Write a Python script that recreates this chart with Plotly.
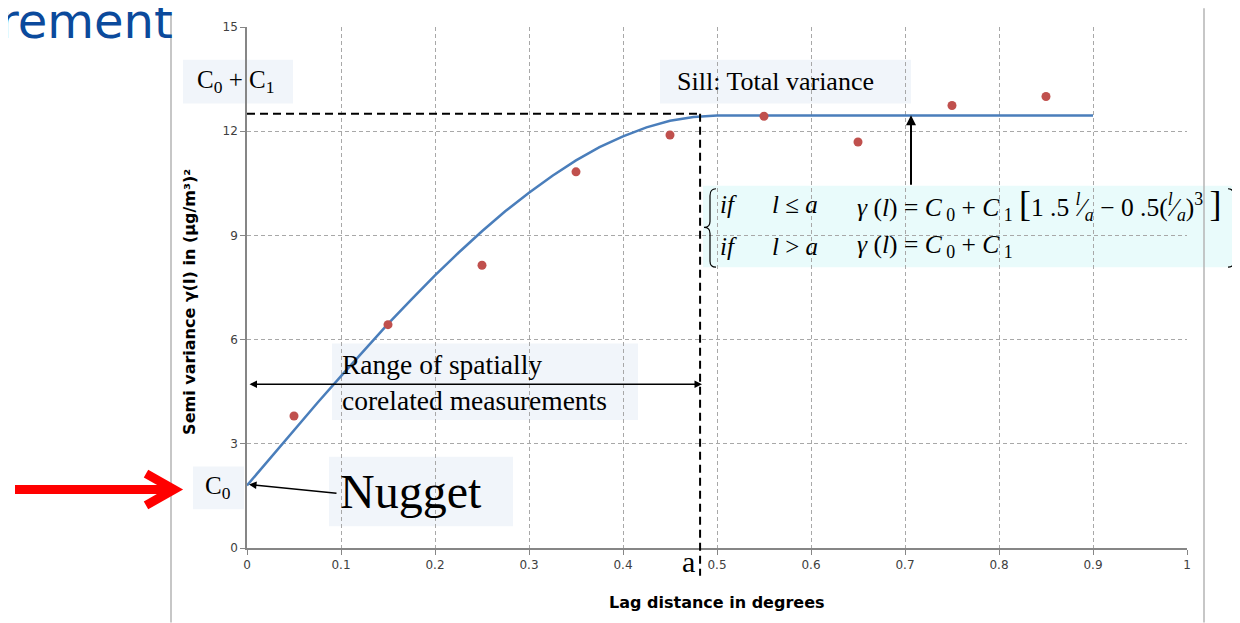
import plotly.graph_objects as go

# ---------------- data ----------------
lag = [0.05, 0.15, 0.25, 0.35, 0.45, 0.55, 0.65, 0.75, 0.85]
semivar = [3.8, 6.43, 8.14, 10.83, 11.89, 12.43, 11.69, 12.74, 13.0]

# fitted spherical model curve
model_lag = [0, 0.025, 0.05, 0.075, 0.1, 0.125, 0.15, 0.175, 0.2, 0.225, 0.25, 0.275,
             0.3, 0.325, 0.35, 0.375, 0.4, 0.425, 0.45, 0.475, 0.5, 0.9]
model_gamma = [1.8, 2.6, 3.39, 4.18, 4.95, 5.71, 6.45, 7.16, 7.85, 8.5, 9.12, 9.7,
               10.23, 10.72, 11.16, 11.54, 11.85, 12.11, 12.3, 12.41, 12.45, 12.45]

sill_level = 12.5
range_a = 0.482

x_ticks = [0, 0.1, 0.2, 0.3, 0.4, 0.5, 0.6, 0.7, 0.8, 0.9, 1]
x_ticktext = ["0", "0.1", "0.2", "0.3", "0.4", "0.5", "0.6", "0.7", "0.8", "0.9", "1"]
y_ticks = [0, 3, 6, 9, 12, 15]

# ---------------- layout helpers (page pixel coords) ----------------
OFF = 8                      # body margin of the html page
W, H = 1240 - OFF, 623 - OFF
L, R, T, B = 247, 1187, 23, 548


def px(x):
    return (x - L) / (R - L)


def py(y):
    return (B - y) / (B - T)


SERIF = "Liberation Serif"
SANS = "DejaVu Sans"

fig = go.Figure()
fig.add_trace(go.Scatter(x=model_lag, y=model_gamma, mode="lines",
                         line=dict(color="#4a7ebb", width=2.5),
                         hoverinfo="skip", showlegend=False))
fig.add_trace(go.Scatter(x=lag, y=semivar, mode="markers",
                         marker=dict(color="#c0504d", size=9),
                         showlegend=False))

shapes = []
box_fill = "#f1f5fa"


def rect(x0, y0, x1, y1, fill):
    shapes.append(dict(type="rect", xref="paper", yref="paper",
                       x0=px(x0), x1=px(x1), y0=py(y1), y1=py(y0),
                       fillcolor=fill, line=dict(width=0), layer="below"))


rect(183, 56, 293, 100, box_fill)      # C0 + C1
rect(660, 56, 911, 100, box_fill)      # Sill
rect(332, 342, 638, 419, box_fill)     # Range
rect(193, 466, 244, 509, box_fill)     # C0
rect(329, 456, 513, 526, box_fill)     # Nugget
rect(703, 183, 1240, 265, "#e9fbfb")   # formula


def path(pts, color="black", width=1.2):
    s = ""
    for cmd, coords in pts:
        s += cmd + " " + " ".join(
            f"{px(coords[i])},{py(coords[i + 1])}" for i in range(0, len(coords), 2)) + " "
    shapes.append(dict(type="path", xref="paper", yref="paper", path=s.strip(),
                       line=dict(color=color, width=width)))


# braces of the formula
path([("M", [716, 186]), ("Q", [710, 186, 710, 193]), ("L", [710, 219]),
      ("Q", [710, 225, 704, 225]), ("Q", [710, 225, 710, 231]), ("L", [710, 259]),
      ("Q", [710, 265, 716, 265])])
path([("M", [1228, 186]), ("Q", [1234, 186, 1234, 193]), ("L", [1234, 219]),
      ("Q", [1234, 225, 1240, 225]), ("Q", [1234, 225, 1234, 231]), ("L", [1234, 259]),
      ("Q", [1234, 265, 1228, 265])])

# dashed sill / range lines
shapes.append(dict(type="line", xref="x", yref="y", x0=0, x1=range_a,
                   y0=sill_level, y1=sill_level,
                   line=dict(color="black", width=2, dash="8px,5px")))
shapes.append(dict(type="line", xref="paper", yref="paper", x0=range_a, x1=range_a,
                   y0=sill_level / 15, y1=py(576),
                   line=dict(color="black", width=2, dash="8px,5px")))

# frame lines of the slide
shapes.append(dict(type="line", xref="paper", yref="paper", x0=px(171), x1=px(171),
                   y0=py(10), y1=py(623), line=dict(color="#b4b4b4", width=1.5)))
shapes.append(dict(type="line", xref="paper", yref="paper", x0=px(1204), x1=px(1204),
                   y0=py(4), y1=py(623), line=dict(color="#b4b4b4", width=1.5)))

# red arrow
shapes.append(dict(type="line", xref="paper", yref="paper", x0=px(15), x1=px(170),
                   y0=py(489), y1=py(489), line=dict(color="#ff0000", width=9)))
shapes.append(dict(type="path", xref="paper", yref="paper",
                   path=f"M {px(146)} {py(473)} L {px(174)} {py(489)} L {px(146)} {py(505)}",
                   line=dict(color="#ff0000", width=9)))

ann = []


def text(x, y, s, size, font=SERIF, anchor="center", color="black", italic=False):
    ann.append(dict(xref="paper", yref="paper", x=px(x), y=py(y), text=s,
                    showarrow=False, xanchor=anchor, yanchor="middle", align=anchor,
                    font=dict(family=font, size=size, color=color,
                              style="italic" if italic else "normal")))


def arrow(hx, hy, tx, ty, width=1.5, both=False):
    d = dict(xref="paper", yref="paper", x=px(hx), y=py(hy), ax=tx - hx, ay=ty - hy,
             axref="pixel", ayref="pixel", text="", showarrow=True,
             arrowhead=2, arrowsize=1, arrowwidth=width, arrowcolor="black")
    if both:
        d.update(arrowside="end+start", startarrowhead=2, startarrowsize=1)
    ann.append(d)


text(175, 17, "rement", 48, font=SANS, anchor="right", color="#0b4a9c")
text(235, 78, "C<sub>0</sub> + C<sub>1</sub>", 25)
text(775, 78, "Sill: Total variance", 26)
text(340, 381, "Range of spatially<br>corelated measurements", 27.5, anchor="left")
text(218, 487, "C<sub>0</sub>", 25)
text(411, 491, "Nugget", 48)
text(688, 562, "a", 30)

# formula
nb = "\u00a0"
big = "<span style='font-size:36px'>"
text(718, 202, "<i>if</i>", 25, anchor="left")
text(718, 244, "<i>if</i>", 25, anchor="left")
text(770, 202, "<i>l</i> ≤ <i>a</i>", 25, anchor="left")
text(770, 244, "<i>l</i> &gt; <i>a</i>", 25, anchor="left")
eq = (f"<i>γ</i>{nb}(<i>l</i>){nb}={nb}<i>C</i><sub>{nb}0</sub>{nb}+{nb}<i>C</i><sub>{nb}1</sub>{nb}")
text(855, 202,
     eq + big + "[</span>1 .5 "
     "<sup><i>l</i></sup>⁄<sub><i>a</i></sub> − 0 .5(<sup><i>l</i></sup>⁄<sub><i>a</i></sub>)<sup>3</sup> "
     + big + "]</span>",
     25.5, anchor="left")
text(855, 244, eq, 25.5, anchor="left")

# arrows
arrow(911, 112, 911, 183, width=2)
arrow(702, 383, 248, 383, width=1.5, both=True)
arrow(249, 484, 338, 493, width=1.5)

# axis titles
ann.append(dict(xref="paper", yref="paper", x=px(190), y=py(300), textangle=-90,
                text="Semi variance γ(l) in (µg/m³)²", showarrow=False,
                xanchor="center", yanchor="middle",
                font=dict(family=SANS, size=16, color="black", weight="bold")))
ann.append(dict(xref="paper", yref="paper", x=px(717), y=py(603),
                text="Lag distance in degrees", showarrow=False,
                xanchor="center", yanchor="middle",
                font=dict(family=SANS, size=16, color="black", weight="bold")))

fig.update_layout(
    width=W, height=H,
    margin=dict(l=L - OFF, r=1240 - R, t=T - OFF, b=623 - B),
    paper_bgcolor="white", plot_bgcolor="white",
    shapes=shapes, annotations=ann,
    xaxis=dict(range=[0, 1], tickvals=x_ticks, ticktext=x_ticktext,
               showgrid=True, gridcolor="#a8a8a8", griddash="4px,3px", gridwidth=1,
               zeroline=False, showline=True, linecolor="#868686", linewidth=1.5,
               ticks="outside", ticklen=5, tickcolor="#868686",
               tickfont=dict(family=SANS, size=12, color="#404040")),
    yaxis=dict(range=[0, 15], tickvals=y_ticks,
               showgrid=True, gridcolor="#a8a8a8", griddash="4px,3px", gridwidth=1,
               zeroline=False, showline=True, linecolor="#868686", linewidth=1.5,
               ticks="outside", ticklen=5, tickcolor="#868686",
               tickfont=dict(family=SANS, size=12, color="#404040")),
)

fig.write_html("out.html")
